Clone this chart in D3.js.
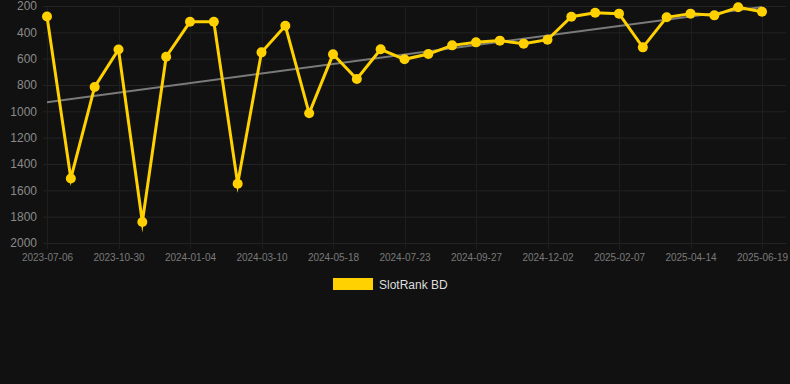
<!DOCTYPE html>
<html><head><meta charset="utf-8">
<script src="https://cdn.jsdelivr.net/npm/d3@7"></script>
<style>
html,body{margin:0;padding:0;background:#111111;}
svg{display:block;}
</style></head>
<body>
<svg id="c" width="790" height="384"></svg>
<script>
const dates = ["2023-07-06","2023-08-14","2023-09-22","2023-10-30","2023-11-21","2023-12-13","2024-01-04","2024-01-26","2024-02-17","2024-03-10","2024-04-02","2024-04-25","2024-05-18","2024-06-09","2024-07-01","2024-07-23","2024-08-14","2024-09-05","2024-09-27","2024-10-19","2024-11-10","2024-12-02","2024-12-24","2025-01-16","2025-02-07","2025-03-01","2025-03-23","2025-04-14","2025-05-06","2025-05-28","2025-06-19"];
const ranks = [280,1510,815,530,1840,585,320,320,1550,552,350,1015,567,754,529,605,565,499,476,463,486,456,281,251,258,514,286,258,271,210,243];
const yTicks = [200,400,600,800,1000,1200,1400,1600,1800,2000];
const seriesName = "SlotRank BD";

const svg = d3.select("#c");
const pLeft = 47, pRight = 762, pTop = 6, pBottom = 243;
const x = d3.scalePoint().domain(dates).range([pLeft, pRight]);
const y = d3.scaleLinear().domain([200, 2000]).range([pTop, pBottom]);

// grid
const grid = svg.append("g");
grid.selectAll("line.h").data(yTicks).join("line")
  .attr("x1", 43).attr("x2", 786).attr("y1", d => y(d) + 0.5).attr("y2", d => y(d) + 0.5)
  .attr("stroke", "#232323").attr("stroke-width", 1);
const xTickDates = dates.filter((d, i) => i % 3 === 0);
grid.selectAll("line.v").data(xTickDates).join("line")
  .attr("x1", d => Math.round(x(d)) + 0.5).attr("x2", d => Math.round(x(d)) + 0.5).attr("y1", pTop).attr("y2", pBottom + 6)
  .attr("stroke", "#1e1e1e").attr("stroke-width", 1);

// y labels
const yAxis = d3.axisLeft(y).tickValues(yTicks).tickFormat(d3.format("d")).tickSize(0).tickPadding(0);
const gy = svg.append("g").attr("transform", "translate(37,0)").call(yAxis);
gy.select(".domain").remove();
gy.selectAll("text").attr("fill", "#8a8a8a").style("font", "12px 'Liberation Sans', Arial, sans-serif");

// x labels
const xAxis = d3.axisBottom(x).tickValues(xTickDates).tickSize(0).tickPadding(0);
const gx = svg.append("g").attr("transform", "translate(0,254)").call(xAxis);
gx.select(".domain").remove();
gx.selectAll("text").attr("fill", "#7a7a7a").style("font", "10px 'Liberation Sans', Arial, sans-serif");

// trend line (least squares over index)
const n = ranks.length;
const idx = d3.range(n);
const mx = d3.mean(idx), my = d3.mean(ranks);
const slope = d3.sum(idx, i => (i - mx) * (ranks[i] - my)) / d3.sum(idx, i => (i - mx) ** 2);
const icpt = my - slope * mx;
svg.append("line")
  .attr("x1", x(dates[0])).attr("y1", y(icpt))
  .attr("x2", x(dates[n - 1])).attr("y2", y(icpt + slope * (n - 1)))
  .attr("stroke", "#7a7a7a").attr("stroke-width", 2);

// line
const line = d3.line().x((d, i) => x(dates[i])).y(d => y(d));
svg.append("path").datum(ranks).attr("d", line)
  .attr("fill", "none").attr("stroke", "#FFD100").attr("stroke-width", 3)
  .attr("stroke-linejoin", "miter").attr("stroke-miterlimit", 10);

svg.append("g").selectAll("circle").data(ranks).join("circle")
  .attr("cx", (d, i) => x(dates[i])).attr("cy", d => y(d)).attr("r", 5)
  .attr("fill", "#FFD100");

// legend
const lg = svg.append("g");
lg.append("rect").attr("x", 333).attr("y", 278).attr("width", 40).attr("height", 12).attr("fill", "#FFD100");
lg.append("text").attr("x", 379).attr("y", 288.5).text(seriesName)
  .attr("fill", "#dddddd").style("font", "12px 'Liberation Sans', Arial, sans-serif");
</script>
</body></html>
